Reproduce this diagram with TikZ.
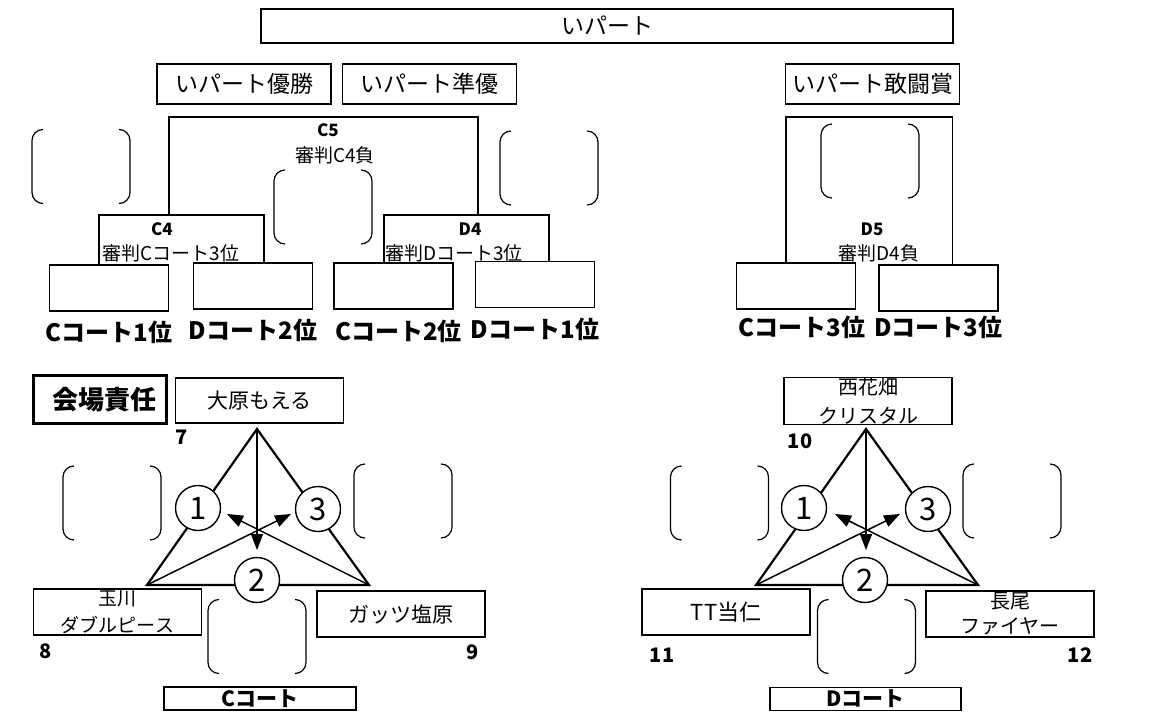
\documentclass[tikz,border=0pt]{standalone}
\usepackage{fontspec}
\setmainfont{Noto Sans CJK JP}
\usetikzlibrary{arrows.meta,positioning}

\begin{document}
\begin{tikzpicture}[
    x=1pt, y=-1pt,
    frame/.style={rectangle, draw=black, line width=1.4pt, inner sep=0pt},
    slot/.style={frame, minimum width=119pt, minimum height=46pt},
    team/.style={frame, minimum width=168pt, minimum height=46pt, align=center},
    prize/.style={frame, minimum width=174pt, minimum height=40pt, font=\fontsize{23}{26}\selectfont},
    rank/.style={inner sep=0pt, font=\fontsize{24}{28}\selectfont\bfseries},
    game/.style={inner sep=0pt, font=\fontsize{17}{20}\selectfont\bfseries},
    judge/.style={inner sep=0pt, font=\fontsize{19}{22}\selectfont},
    num/.style={inner sep=0pt, font=\fontsize{20}{20}\selectfont\bfseries},
    bracket/.style={line width=1.8pt},
    paren/.style={line width=1.2pt, rounded corners=11pt},
    side/.style={line width=2.2pt},
    arrow/.style={-{Triangle[length=16pt,width=12pt]}, line width=1.5pt},
    match/.style={circle, draw, fill=white, line width=1.4pt, minimum size=45pt, inner sep=0pt, font=\fontsize{31}{31}\selectfont},
    kakko/.pic={
        \draw[paren] (-38,-37) -- (-49,-37) -- (-49,37) -- (-38,37);
        \draw[paren] (38,-37) -- (49,-37) -- (49,37) -- (38,37);
    }
]
    \useasboundingbox (0,0) rectangle (1173,717);

    \node[frame, minimum width=692pt, minimum height=34pt, font=\fontsize{23}{26}\selectfont] (ipart) at (607,26) {いパート};
    \node[prize] (yusho) at (244,84) {いパート優勝};
    \node[prize] (junyu) at (429.5,84) {いパート準優};
    \node[prize] (kanto) at (872.5,84) {いパート敢闘賞};

    \node[slot] (cfirst) at (109,288) {};
    \node[slot] (dsecond) at (253,286) {};
    \node[slot] (csecond) at (393.5,286) {};
    \node[slot] (dfirst) at (535,284.5) {};
    \node[slot] (cthird) at (796,286) {};
    \node[slot] (dthird) at (938.5,288) {};

    \node[rank, below=9pt of cfirst] {Cコート1位};
    \node[rank, below=9pt of dsecond] {Dコート2位};
    \node[rank, below=10pt of csecond, xshift=5pt] {Cコート2位};
    \node[rank, below=10pt of dfirst] {Dコート1位};
    \node[rank, below=6pt of cthird, xshift=6pt] {Cコート3位};
    \node[rank, below=4pt of dthird] {Dコート3位};

    \coordinate (c4) at (169,215);
    \coordinate (d4) at (478,215);
    \coordinate (c5) at (323,117);
    \coordinate (d5) at (869,117);

    \draw[bracket] ([xshift=-10pt]cfirst.north) |- (c4) -| ([xshift=11pt]dsecond.north);
    \draw[bracket] ([xshift=-9.5pt]csecond.north) |- (d4) -| ([xshift=14pt]dfirst.north);
    \draw[bracket] (c4) |- (c5) -| (d4);
    \draw[bracket] ([xshift=-10pt]cthird.north) |- (d5) -| ([xshift=14pt]dthird.north);

    \node[game] at (328,130) {C5};
    \node[judge] at (335,155) {審判C4負};
    \node[game] at (162,229) {C4};
    \node[judge] at (171,253) {審判Cコート3位};
    \node[game] at (470,229) {D4};
    \node[judge] at (454,253) {審判Dコート3位};
    \node[game] at (872,229) {D5};
    \node[judge] at (879,253) {審判D4負};

    \pic at (81,166.5) {kakko};
    \pic at (323,207) {kakko};
    \pic at (549,168) {kakko};
    \pic at (870,161) {kakko};

    \node[frame, line width=3.5pt, minimum width=133pt, minimum height=48pt, font=\fontsize{26}{26}\selectfont\bfseries] (sekinin) at (100,399.5) {\hspace{8pt}会場責任};
    \node[team, minimum height=45pt, font=\fontsize{21}{24}\selectfont] (ohara) at (259.5,400.5) {大原もえる};
    \node[team, font=\fontsize{19}{27}\selectfont] (tamagawa) at (117.5,612) {玉川\\ダブルピース};
    \node[team, font=\fontsize{21}{24}\selectfont] (gattsu) at (401,614) {ガッツ塩原};
    \node[frame, minimum width=192pt, minimum height=23pt, font=\fontsize{21}{21}\selectfont\bfseries] (ccourt) at (260,698.5) {Cコート};

    \node[num] at (182,437) {7};
    \node[num] at (46,651) {8};
    \node[num] at (473,652) {9};

    \coordinate (ctop) at (257,429);
    \coordinate (cleft) at (147,585);
    \coordinate (cright) at (369,585);
    \coordinate (cend1) at (227,514);
    \coordinate (cend2) at (257,550);
    \coordinate (cend3) at (291,514);

    \draw[side] (ctop) -- (cleft) -- (cright) -- cycle;
    \draw[arrow] (ctop) -- (cend2);
    \draw[arrow] (cleft) -- (cend3);
    \draw[arrow] (cright) -- (cend1);

    \node[match] (cm1) at (198,508) {1};
    \node[match] (cm3) at (318,509) {3};
    \node[match] (cm2) at (257,580) {2};

    \pic at (112,503) {kakko};
    \pic at (403,501) {kakko};
    \pic at (257,636.5) {kakko};

    \node[team, minimum height=45pt, font=\fontsize{20}{29}\selectfont] (nishi) at (868,401) {西花畑\\クリスタル};
    \node[team, font=\fontsize{22}{24}\selectfont] (tt) at (726,612) {TT当仁};
    \node[team, font=\fontsize{20}{25}\selectfont] (nagao) at (1010,614) {長尾\\ファイヤー};
    \node[frame, minimum width=191pt, minimum height=23pt, font=\fontsize{21}{21}\selectfont\bfseries] (dcourt) at (865.5,699) {Dコート};

    \node[num] at (800,441) {10};
    \node[num] at (662,655) {11};
    \node[num] at (1080,655) {12};

    \coordinate (dtop) at (866,429);
    \coordinate (dleft) at (756,585);
    \coordinate (dright) at (978,585);
    \coordinate (dend1) at (835,514);
    \coordinate (dend2) at (866,550);
    \coordinate (dend3) at (900,514);

    \draw[side] (dtop) -- (dleft) -- (dright) -- cycle;
    \draw[arrow] (dtop) -- (dend2);
    \draw[arrow] (dleft) -- (dend3);
    \draw[arrow] (dright) -- (dend1);

    \node[match] (dm1) at (804,508) {1};
    \node[match] (dm3) at (928,509) {3};
    \node[match] (dm2) at (865,580) {2};

    \pic at (719.5,503) {kakko};
    \pic at (1012,501) {kakko};
    \pic at (866.5,636.5) {kakko};
\end{tikzpicture}
\end{document}
